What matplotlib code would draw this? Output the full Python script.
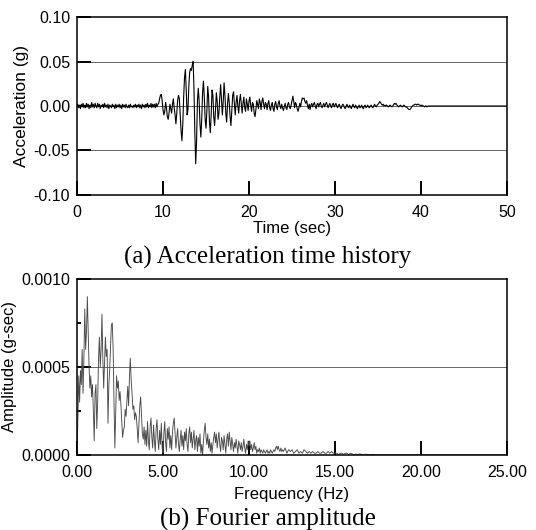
import matplotlib
matplotlib.use("Agg")
import matplotlib.pyplot as plt
from matplotlib.ticker import FormatStrFormatter
import numpy as np

plt.rcParams["font.family"] = "Liberation Sans"

# acceleration record, dt = 0.1 s from 0.0 to 41.0 s, values in milli-g
DT = 0.1
acc_mg = [
    0, 2, -2, 1, -3, 2, -1, 3, -2, 1,
    -2, 3, -1, 2, -3, 1, -2, 4, -1, 2,
    -2, 3, 0, -2, 3, -1, 2, -3, 1, -1,
    2, -2, 3, -1, 1, -2, 2, -3, 1, 0,
    -2, 2, -1, 1, -3, 2, -2, 1, -1, 2,
    -2, 1, -3, 2, -1, 1, -2, 2, -1, -2,
    1, -2, 2, -1, 0, -2, 1, -1, 2, -2,
    1, -1, 2, -2, 1, -3, 2, -1, 1, -2,
    2, -1, 3, -2, 1, -1, 3, -2, 2, -1,
    2, -2, 3, -1, 2, 3, 8, 12, 13, 6,
    -4, -10, -6, 4, -2, -12, -15, -8, 2, -3,
    -8, 2, 8, -2, -10, -20, -8, 6, 12, 8,
    -10, -28, -39, -20, 10, 32, 41, 18, -10, -4,
    22, 38, 42, 40, 46, 50, 20, -30, -65, -40,
    5, 20, 5, -20, -35, -15, 15, 28, 10, -15,
    -25, -5, 22, 10, -18, -30, -10, 18, 12, -12,
    -22, -5, 15, 5, -15, -8, 10, 24, 8, -10,
    5, 26, 12, -8, -18, 2, 14, 4, -12, -22,
    -5, 12, 16, 2, -10, 4, 12, 0, -8, 6,
    13, 2, -8, 3, 10, -2, -6, 8, 2, -5,
    6, 10, 0, -6, 4, 2, -8, -12, -4, 6,
    2, -3, 8, 4, -4, 5, 9, 2, -3, 4,
    2, -4, 3, 6, -2, -5, 1, 4, -3, -6,
    2, 5, -1, -4, 3, 6, 0, -3, 2, -2,
    -5, -1, 3, -2, -4, 2, 4, -1, -3, 1,
    6, 11, 5, -2, 4, 2, -3, -6, -2, 3,
    -1, 5, 9, 8, 9, 5, 3, 6, 1, -3,
    2, -4, 1, 3, -1, 2, 4, 0, -3, 2,
    3, -1, 2, 4, 0, -2, 1, 3, -1, 2,
    4, 1, -2, 1, 3, 0, -2, 2, 3, -1,
    1, 3, 0, -2, 1, 2, -1, -3, 0, 2,
    1, -2, -3, 0, 2, -1, -2, 1, -1, -3,
    0, 2, -1, -2, 1, -1, -3, -1, 1, -2,
    -1, 1, -2, -3, 0, 1, -2, -1, 1, -1,
    -2, 0, 1, -1, -2, 0, 2, 0, -1, 1,
    2, 3, 5, 4, 2, 1, 2, 0, 1, 0,
    1, 0, -1, 0, 1, 0, -1, 0, 1, 3,
    2, 3, 1, 0, -1, 0, 1, 0, -1, 0,
    1, 0, -1, -1, -2, -3, -4, -4, -3, -1,
    0, 1, 1, 2, 2, 1, 2, 2, 1, 1,
    0, 1, 0, 0, -1, 0, 0, -1, 0, 0,
    0,
]
t_end = 50.0

# Fourier amplitude, df = 0.05 Hz from 0 to 11.95 Hz (units 1e-5 g-sec)
DF_LOW = 0.05
amp_low = [
    0, 20, 45, 30, 48, 40, 60, 35, 55, 83, 60, 70, 90, 70, 50, 38, 45, 33, 40, 25,
    8, 35, 40, 15, 30, 55, 67, 50, 60, 80, 55, 38, 52, 67, 56, 60, 18, 40, 48, 62,
    74, 75, 60, 30, 4, 25, 45, 38, 42, 31, 36, 29, 20, 10, 14, 16, 26, 22, 30, 39,
    28, 45, 55, 42, 35, 26, 28, 20, 24, 22, 15, 7, 18, 28, 33, 22, 12, 9, 16, 6,
    14, 5, 19, 8, 3, 16, 21, 10, 4, 17, 8, 2, 15, 20, 9, 3, 14, 6, 18, 4,
    1, 12, 19, 7, 2, 15, 9, 16, 4, 11, 3, 13, 18, 21, 12, 4, 10, 15, 6, 2,
    9, 14, 5, 11, 3, 13, 8, 15, 6, 2, 12, 16, 7, 13, 4, 9, 14, 3, 8, 11,
    2, 10, 5, 12, 1, 6, 0, 8, 14, 18, 10, 6, 12, 4, 9, 2, 7, 1, 6, 10,
    13, 7, 12, 4, 9, 13, 6, 2, 10, 8, 3, 11, 6, 1, 9, 12, 5, 13, 8, 3,
    10, 6, 2, 7, 4, 9, 5, 1, 8, 6, 3, 7, 2, 5, 9, 4, 1, 6, 3, 8,
    5, 8, 3, 6, 2, 4, 7, 3, 5, 1, 3, 2, 4, 1, 3, 2, 1, 3, 2, 1,
    2, 3, 1, 2, 1, 3, 2, 1, 2, 3, 2, 4, 5, 3, 5, 3, 2, 4, 2, 3,
]
# df = 0.1 Hz from 12.0 to 18.0 Hz
DF_HIGH = 0.1
amp_high = [
    2, 4, 1, 3, 2, 3, 1, 2, 3, 1,
    2, 1, 3, 2, 1, 2, 1, 2, 1, 1,
    2, 1, 1, 2, 1, 1, 2, 1, 2, 1,
    1, 1, 0.3, 1, 1, 0.3, 1, 1, 0.3, 1,
    0.6, 0.2, 0.6, 0.2, 0.6, 0.5, 0.2, 0.2, 0.5, 0.2,
    0.2, 0.1, 0.4, 0.1, 0.1, 0.1, 0.1, 0.1, 0.1, 0.1,
    0.1,
]
f_end = 25.0

t = np.append(np.arange(len(acc_mg)) * DT, t_end)
acc = np.append(np.array(acc_mg) / 1000.0, 0.0)

f_low = np.arange(len(amp_low)) * DF_LOW
f_high = 12.0 + np.arange(len(amp_high)) * DF_HIGH
freq = np.concatenate([f_low, f_high, [f_end]])
amp = np.concatenate([amp_low, amp_high, [0.1]]) * 1e-5

fig = plt.figure(figsize=(5.36, 5.30), dpi=100)
ax1 = fig.add_axes([0.1437, 0.6321, 0.8022, 0.3358])
ax2 = fig.add_axes([0.1437, 0.1415, 0.8022, 0.3321])

for ax in (ax1, ax2):
    for s in ax.spines.values():
        s.set_linewidth(1.1)
    ax.tick_params(direction="in", length=10, width=1.4, labelsize=11.5, pad=5)
    ax.tick_params(axis="x", pad=7)

# (a) acceleration
for yv in (0.05, 0.0, -0.05):
    ax1.axhline(yv, color="#666666", lw=0.7, zorder=1)
ax1.plot(t, acc, color="black", lw=0.8, zorder=2)
ax1.set_xlim(0, 50)
ax1.set_ylim(-0.10, 0.10)
ax1.set_xticks(np.arange(0, 51, 10))
ax1.set_yticks([-0.10, -0.05, 0.0, 0.05, 0.10])
ax1.yaxis.set_major_formatter(FormatStrFormatter("%.2f"))
ax1.set_xlabel("Time (sec)", fontsize=12, labelpad=1)
ax1.set_ylabel("Acceleration (g)", fontsize=12.5, labelpad=3)

# (b) Fourier amplitude
ax2.axhline(0.0005, color="#666666", lw=0.7, zorder=1)
ax2.plot(freq, amp, color="#4a4a4a", lw=0.65, zorder=2)
ax2.set_xlim(0, 25)
ax2.set_ylim(0, 0.0010)
ax2.set_xticks(np.arange(0, 26, 5))
ax2.set_yticks([0.0, 0.0005, 0.0010])
ax2.set_yticks([0.00025, 0.00075], minor=True)
ax2.tick_params(axis="y", which="minor", direction="in", length=3, width=1.4)
ax2.xaxis.set_major_formatter(FormatStrFormatter("%.2f"))
ax2.yaxis.set_major_formatter(FormatStrFormatter("%.4f"))
ax2.set_xlabel("Frequency (Hz)", fontsize=12, labelpad=5)
ax2.set_ylabel("Amplitude (g-sec)", fontsize=12, labelpad=3)

fig.text(0.5, 1 - 257 / 530, "(a) Acceleration time history", ha="center", va="center",
         fontsize=18, family="Liberation Serif")
fig.text(0.5, 1 - 519 / 530, "(b) Fourier amplitude", ha="center", va="center",
         fontsize=18, family="Liberation Serif")

plt.savefig("out.png", dpi=100)
